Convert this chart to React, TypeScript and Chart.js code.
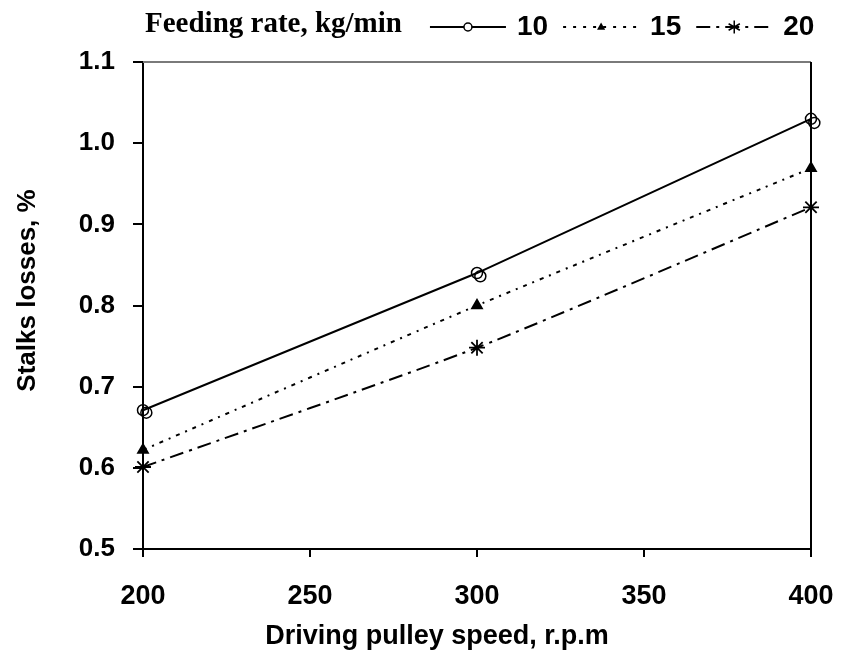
import React, { useEffect, useRef } from "react";
import { Chart, registerables } from "chart.js";

Chart.register(...registerables);

// ---- data ----
const speeds = [200, 300, 400];
const rate10 = [0.671, 0.84, 1.03];
const rate10RepeatX = [201, 301, 401];
const rate10Repeat = [0.668, 0.836, 1.025];
const rate15 = [0.622, 0.8, 0.969];
const rate20 = [0.601, 0.748, 0.921];
const yTickValues = [0.5, 0.6, 0.7, 0.8, 0.9, 1.0, 1.1];
const xTickValues = [200, 250, 300, 350, 400];
const legendTitle = "Feeding rate, kg/min";
const seriesLabels = ["10", "15", "20"];
const xTitle = "Driving pulley speed, r.p.m";
const yTitle = "Stalks losses, %";

const SANS = "'Liberation Sans', Arial, Helvetica, sans-serif";
const SERIF = "'Liberation Serif', 'Times New Roman', serif";

const dashes: number[][] = [[], [4, 6, 2, 6], [14, 6, 3, 6]];

function drawMarker(ctx: CanvasRenderingContext2D, kind: number, x: number, y: number) {
  ctx.save();
  ctx.setLineDash([]);
  ctx.strokeStyle = "#000";
  ctx.fillStyle = "#000";
  ctx.lineWidth = 1.5;
  if (kind === 0) {
    ctx.beginPath();
    ctx.arc(x, y, 4, 0, Math.PI * 2);
    ctx.fillStyle = "#fff";
    ctx.fill();
    ctx.stroke();
  } else if (kind === 1) {
    const r = 4.5;
    ctx.beginPath();
    ctx.moveTo(x, y - r);
    ctx.lineTo(x + r * 0.9, y + r * 0.6);
    ctx.lineTo(x - r * 0.9, y + r * 0.6);
    ctx.closePath();
    ctx.fill();
  } else {
    const r = 6.5;
    ctx.beginPath();
    for (let i = 0; i < 3; i++) {
      const a = Math.PI / 2 + (i * Math.PI) / 3;
      ctx.moveTo(x + Math.cos(a) * r, y + Math.sin(a) * r);
      ctx.lineTo(x - Math.cos(a) * r, y - Math.sin(a) * r);
    }
    ctx.stroke();
  }
  ctx.restore();
}

const framePlugin = {
  id: "frame",
  beforeDatasetsDraw(chart: any) {
    const { ctx, chartArea } = chart;
    ctx.save();
    ctx.strokeStyle = "#7a7a7a";
    ctx.lineWidth = 2;
    ctx.beginPath();
    ctx.moveTo(chartArea.left, chartArea.top);
    ctx.lineTo(chartArea.right, chartArea.top);
    ctx.stroke();
    ctx.strokeStyle = "#000";
    ctx.beginPath();
    ctx.moveTo(chartArea.right, chartArea.top);
    ctx.lineTo(chartArea.right, chartArea.bottom);
    ctx.stroke();
    ctx.restore();
  },
};

const legendPlugin = {
  id: "customLegend",
  afterDraw(chart: any) {
    const ctx: CanvasRenderingContext2D = chart.ctx;
    const { chartArea } = chart;
    ctx.save();
    ctx.fillStyle = "#000";
    // y axis title, drawn rotated
    ctx.save();
    ctx.font = `bold 26px ${SANS}`;
    ctx.textAlign = "center";
    ctx.textBaseline = "middle";
    ctx.translate(28, (chartArea.top + chartArea.bottom) / 2 - 15);
    ctx.rotate(-Math.PI / 2);
    ctx.fillText(yTitle, 0, 0);
    ctx.restore();

    // x axis title
    ctx.save();
    ctx.font = `bold 27px ${SANS}`;
    ctx.textAlign = "center";
    ctx.textBaseline = "middle";
    ctx.fillText(xTitle, (chartArea.left + chartArea.right) / 2 - 40, 637);
    ctx.restore();

    ctx.textBaseline = "middle";
    ctx.textAlign = "left";
    ctx.font = `bold 29px ${SERIF}`;
    const startX = 145;
    const y = 25;
    ctx.fillText(legendTitle, startX, y);
    let x = startX + ctx.measureText(legendTitle).width + 28;
    const lineLen = 76;
    seriesLabels.forEach((label, i) => {
      ctx.save();
      ctx.strokeStyle = "#000";
      ctx.lineWidth = 2;
      ctx.setLineDash(i === 1 ? [3, 7] : dashes[i]);
      ctx.beginPath();
      ctx.moveTo(x, y + 2);
      ctx.lineTo(x + lineLen, y + 2);
      ctx.stroke();
      ctx.restore();
      drawMarker(ctx, i, x + lineLen / 2, y + 2);
      x += lineLen + 11;
      ctx.font = `bold 28px ${SANS}`;
      ctx.fillText(label, x, y + 2);
      x += ctx.measureText(label).width + 15;
    });
    ctx.restore();
  },
};

export default function App() {
  const ref = useRef<HTMLCanvasElement | null>(null);

  useEffect(() => {
    if (!ref.current) return;
    const mk = (xs: number[], ys: number[]) => xs.map((x, i) => ({ x, y: ys[i] }));
    const chart = new Chart(ref.current, {
      type: "line",
      data: {
        datasets: [
          {
            label: seriesLabels[0],
            data: mk(speeds, rate10),
            borderColor: "#000",
            borderWidth: 2,
            pointStyle: "circle",
            pointRadius: 5.5,
            pointBorderWidth: 1.5,
            pointBackgroundColor: "rgba(255,255,255,0)",
            pointBorderColor: "#000",
            tension: 0,
            clip: false,
          },
          {
            label: seriesLabels[0] + " (repeat)",
            data: mk(rate10RepeatX, rate10Repeat),
            borderColor: "#000",
            borderWidth: 0,
            showLine: false,
            pointStyle: "circle",
            pointRadius: 5.5,
            pointBorderWidth: 1.5,
            pointBackgroundColor: "rgba(255,255,255,0)",
            pointBorderColor: "#000",
            clip: false,
          },
          {
            label: seriesLabels[1],
            data: mk(speeds, rate15),
            borderColor: "#000",
            borderWidth: 2,
            borderDash: dashes[1],
            pointStyle: "triangle",
            pointRadius: 5.5,
            pointBackgroundColor: "#000",
            pointBorderColor: "#000",
            tension: 0.15,
            clip: false,
          },
          {
            label: seriesLabels[2],
            data: mk(speeds, rate20),
            borderColor: "#000",
            borderWidth: 2,
            borderDash: dashes[2],
            pointStyle: "star",
            pointRadius: 8,
            pointBorderWidth: 1.8,
            pointBackgroundColor: "#000",
            pointBorderColor: "#000",
            tension: 0.2,
            clip: false,
          },
        ],
      },
      options: {
        animation: false,
        responsive: false,
        layout: { padding: { top: 62, right: 31, left: 0, bottom: 0 } },
        plugins: { legend: { display: false }, tooltip: { enabled: false } },
        scales: {
          x: {
            type: "linear",
            min: 200,
            max: 400,
            afterBuildTicks: (s: any) => {
              s.ticks = xTickValues.map((v) => ({ value: v }));
            },
            afterFit: (s: any) => {
              s.height = 108;
              s.paddingLeft = 0;
              s.paddingRight = 0;
            },
            ticks: {
              color: "#000",
              font: { family: SANS, size: 27, weight: "bold" },
              padding: 23,
              maxRotation: 0,
              callback: (v: any) => String(v),
            },
            grid: { drawOnChartArea: false, color: "#000", lineWidth: 2, tickLength: 8 },
            border: { color: "#000", width: 2 },
            title: { display: false, text: xTitle },
          },
          y: {
            min: 0.5,
            max: 1.1,
            afterBuildTicks: (s: any) => {
              s.ticks = yTickValues.map((v) => ({ value: v }));
            },
            afterFit: (s: any) => {
              s.width = 143;
            },
            ticks: {
              color: "#000",
              font: { family: SANS, size: 26, weight: "bold" },
              padding: 18,
              callback: (v: any) => Number(v).toFixed(1),
            },
            grid: { drawOnChartArea: false, color: "#000", lineWidth: 2, tickLength: 10 },
            border: { color: "#000", width: 2 },
            title: { display: false, text: yTitle },
          },
        },
      },
      plugins: [framePlugin, legendPlugin],
    } as any);
    return () => chart.destroy();
  }, []);

  return (
    <div style={{ position: "fixed", left: 0, top: 0, width: 842, height: 657, background: "#fff" }}>
      <canvas ref={ref} width={842} height={657} style={{ width: 842, height: 657, display: "block" }} />
    </div>
  );
}
